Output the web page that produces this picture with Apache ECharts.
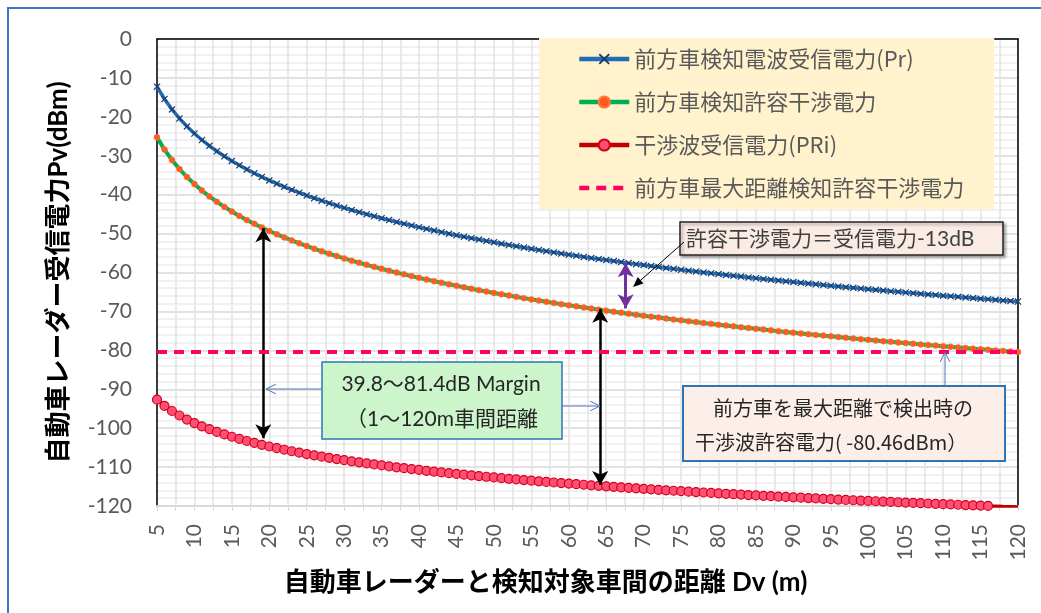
<!DOCTYPE html>
<html><head><meta charset="utf-8">
<script src="https://cdn.jsdelivr.net/npm/echarts@6/dist/echarts.min.js"></script>
<style>html,body{margin:0;padding:0;background:#fff}#c{width:1041px;height:613px}</style>
</head><body><div id="c"></div>
<script>
// ---- data ----
const distances = [5,6,7,8,9,10,11,12,13,14,15,16,17,18,19,20,21,22,23,24,25,26,27,28,29,30,31,32,33,34,35,36,37,38,39,40,41,42,43,44,45,46,47,48,49,50,51,52,53,54,55,56,57,58,59,60,61,62,63,64,65,66,67,68,69,70,71,72,73,74,75,76,77,78,79,80,81,82,83,84,85,86,87,88,89,90,91,92,93,94,95,96,97,98,99,100,101,102,103,104,105,106,107,108,109,110,111,112,113,114,115,116,117,118,119,120];
const receivedPr = [-12.25,-15.42,-18.10,-20.41,-22.46,-24.29,-25.95,-27.46,-28.85,-30.14,
-31.33,-32.46,-33.51,-34.50,-35.44,-36.33,-37.18,-37.99,-38.76,-39.50,
-40.21,-40.89,-41.55,-42.18,-42.79,-43.38,-43.95,-44.50,-45.03,-45.55,
-46.05,-46.54,-47.02,-47.48,-47.93,-48.37,-48.80,-49.22,-49.63,-50.03,
-50.42,-50.80,-51.18,-51.54,-51.90,-52.25,-52.59,-52.93,-53.26,-53.59,
-53.91,-54.22,-54.53,-54.83,-55.13,-55.42,-55.70,-55.99,-56.27,-56.54,
-56.81,-57.07,-57.33,-57.59,-57.85,-58.10,-58.34,-58.58,-58.82,-59.06,
-59.29,-59.52,-59.75,-59.98,-60.20,-60.41,-60.63,-60.84,-61.05,-61.26,
-61.47,-61.67,-61.87,-62.07,-62.27,-62.46,-62.65,-62.84,-63.03,-63.22,
-63.40,-63.58,-63.76,-63.94,-64.12,-64.29,-64.46,-64.64,-64.81,-64.97,
-65.14,-65.30,-65.47,-65.63,-65.79,-65.95,-66.10,-66.26,-66.41,-66.57,
-66.72,-66.87,-67.02,-67.17,-67.31,-67.46];
const allowedInterference = [-25.25,-28.42,-31.10,-33.41,-35.46,-37.29,-38.95,-40.46,-41.85,-43.14,
-44.33,-45.46,-46.51,-47.50,-48.44,-49.33,-50.18,-50.99,-51.76,-52.50,
-53.21,-53.89,-54.55,-55.18,-55.79,-56.38,-56.95,-57.50,-58.03,-58.55,
-59.05,-59.54,-60.02,-60.48,-60.93,-61.37,-61.80,-62.22,-62.63,-63.03,
-63.42,-63.80,-64.18,-64.54,-64.90,-65.25,-65.59,-65.93,-66.26,-66.59,
-66.91,-67.22,-67.53,-67.83,-68.13,-68.42,-68.70,-68.99,-69.27,-69.54,
-69.81,-70.07,-70.33,-70.59,-70.85,-71.10,-71.34,-71.58,-71.82,-72.06,
-72.29,-72.52,-72.75,-72.98,-73.20,-73.41,-73.63,-73.84,-74.05,-74.26,
-74.47,-74.67,-74.87,-75.07,-75.27,-75.46,-75.65,-75.84,-76.03,-76.22,
-76.40,-76.58,-76.76,-76.94,-77.12,-77.29,-77.46,-77.64,-77.81,-77.97,
-78.14,-78.30,-78.47,-78.63,-78.79,-78.95,-79.10,-79.26,-79.41,-79.57,
-79.72,-79.87,-80.02,-80.17,-80.31,-80.46];
const interferencePRi = [-92.67,-94.25,-95.59,-96.75,-97.78,-98.69,-99.52,-100.27,-100.97,-101.61,
-102.21,-102.77,-103.30,-103.80,-104.27,-104.71,-105.13,-105.54,-105.93,-106.29,
-106.65,-106.99,-107.32,-107.63,-107.94,-108.23,-108.52,-108.79,-109.06,-109.32,
-109.57,-109.82,-110.05,-110.29,-110.51,-110.73,-110.95,-111.16,-111.36,-111.56,
-111.75,-111.95,-112.13,-112.32,-112.49,-112.67,-112.84,-113.01,-113.18,-113.34,
-113.50,-113.65,-113.81,-113.96,-114.11,-114.25,-114.40,-114.54,-114.68,-114.81,
-114.95,-115.08,-115.21,-115.34,-115.47,-115.59,-115.72,-115.84,-115.96,-116.08,
-116.19,-116.31,-116.42,-116.53,-116.64,-116.75,-116.86,-116.97,-117.07,-117.18,
-117.28,-117.38,-117.48,-117.58,-117.68,-117.78,-117.87,-117.97,-118.06,-118.15,
-118.25,-118.34,-118.43,-118.52,-118.60,-118.69,-118.78,-118.86,-118.95,-119.03,
-119.11,-119.20,-119.28,-119.36,-119.44,-119.52,-119.60,-119.68,-119.75,-119.83,
-119.90,-119.98,-120.05,-120.13,-120.20,-120.27];
const maxDistAllowedLevel = [-80.46, -80.46];
const maxDistAllowedRange = [5, 120];
const seriesNames = ['前方車検知電波受信電力(Pr)','前方車検知許容干渉電力','干渉波受信電力(PRi)','前方車最大距離検知許容干渉電力'];
// measurement arrows [distance, from dB, to dB]
const marginArrows = [[19.2,-48.6,-102.6],[64.2,-69.3,-114.6]];
const diffArrow = [67.6,-57.6,-69.2];

const pair = arr => distances.map((d,i)=>[d,arr[i]]);
const LAT = 'Lato, "Noto Sans CJK JP", sans-serif';
const JP = '"Noto Sans CJK JP", sans-serif';
const XPATH = 'path://M0,1.2 L1.2,0 L5,3.8 L8.8,0 L10,1.2 L6.2,5 L10,8.8 L8.8,10 L5,6.2 L1.2,10 L0,8.8 L3.8,5 Z';

function openArrow(x1,y1,x2,y2,color,w,h){
  const a=Math.atan2(y2-y1,x2-x1), s=0.45;
  return [
    {type:'line',z:50,shape:{x1,y1,x2,y2},style:{stroke:color,lineWidth:w}},
    {type:'polyline',z:50,shape:{points:[[x2-h*Math.cos(a-s),y2-h*Math.sin(a-s)],[x2,y2],[x2-h*Math.cos(a+s),y2-h*Math.sin(a+s)]]},style:{stroke:color,lineWidth:w,fill:null}}
  ];
}
function filledArrow(x1,y1,x2,y2,color,w,h){
  const a=Math.atan2(y2-y1,x2-x1), s=0.4;
  return [
    {type:'line',z:50,shape:{x1,y1,x2:x2-h*0.7*Math.cos(a),y2:y2-h*0.7*Math.sin(a)},style:{stroke:color,lineWidth:w}},
    {type:'polygon',z:50,shape:{points:[[x2-h*Math.cos(a-s),y2-h*Math.sin(a-s)],[x2,y2],[x2-h*Math.cos(a+s),y2-h*Math.sin(a+s)]]},style:{fill:color}}
  ];
}

const graphics = [
  {type:'rect',z:0,silent:true,shape:{x:8,y:8,width:1100,height:700},style:{fill:null,stroke:'#4472C4',lineWidth:2}},
  // box 1
  {type:'rect',z:49,shape:{x:680,y:222,width:323,height:33},style:{fill:'#FBEBE5',stroke:'#262626',lineWidth:1.5,shadowBlur:3,shadowOffsetX:2,shadowOffsetY:2,shadowColor:'rgba(0,0,0,0.35)'}},
  {type:'text',z:51,style:{x:686,y:239,text:'許容干渉電力＝受信電力-13dB',font:'21px '+LAT,fill:'#404040',verticalAlign:'middle'}},
  ...filledArrow(684,242,633,287,'#000',1,11),
  // box 2 (green)
  {type:'rect',z:49,shape:{x:322,y:362,width:240,height:77},style:{fill:'#CCF5CC',stroke:'#2E75B6',lineWidth:1.5}},
  {type:'text',z:51,style:{x:441,y:384,text:'39.8～81.4dB Margin',font:'21px '+LAT,fill:'#262626',align:'center',verticalAlign:'middle'}},
  {type:'text',z:51,style:{x:346,y:419,text:'（1～120m車間距離',font:'21px '+LAT,fill:'#262626',verticalAlign:'middle'}},
  ...openArrow(322,389,266,389,'#4F74B4',1,11),
  ...openArrow(562,406,600,406,'#4F74B4',1,11),
  // box 3
  {type:'rect',z:49,shape:{x:683,y:386,width:322,height:75},style:{fill:'#FCEFEA',stroke:'#2E75B6',lineWidth:2}},
  {type:'text',z:51,style:{x:843,y:408,text:'前方車を最大距離で検出時の',font:'20px '+JP,fill:'#262626',align:'center',verticalAlign:'middle'}},
  {type:'text',z:51,style:{x:695,y:442,text:'干渉波許容電力( -80.46dBm）',font:'20px '+JP,fill:'#262626',verticalAlign:'middle'}},
  ...openArrow(945,386,945,352,'#4F74B4',1,11)
];

const mlData = marginArrows.map(a=>[{coord:[a[0],a[1]],lineStyle:{color:'#000',width:2.5,type:'solid'}},{coord:[a[0],a[2]]}]);
mlData.push([{coord:[diffArrow[0],diffArrow[1]],lineStyle:{color:'#7030A0',width:3,type:'solid'}},{coord:[diffArrow[0],diffArrow[2]]}]);

const chart = echarts.init(document.getElementById('c'));
chart.setOption({
  animation:false,
  backgroundColor:'#fff',
  grid:{left:157,top:39,right:23,bottom:107},
  legend:{
    orient:'vertical',left:539,top:38,
    backgroundColor:'#FFF2CC',
    padding:[8,30,8,38],
    itemWidth:50,itemHeight:14,itemGap:17,
    lineStyle:{width:4.5},
    textStyle:{fontFamily:JP,fontSize:22,color:'#595959',lineHeight:26},
    data:[seriesNames[0],seriesNames[1],seriesNames[2],{name:seriesNames[3],itemStyle:{opacity:0}}]
  },
  xAxis:[{
    type:'value',min:5,max:120,interval:5,
    name:'自動車レーダーと検知対象車間の距離 Dv (m)',nameLocation:'middle',nameGap:64,
    nameTextStyle:{fontFamily:LAT,fontSize:26,fontWeight:'bold',color:'#000',padding:[0,84,0,0]},
    axisLine:{show:true,onZero:false,lineStyle:{color:'#D9D9D9',width:2}},
    axisTick:{show:true,length:5,lineStyle:{color:'#D9D9D9'}},
    minorTick:{show:true,splitNumber:2,length:5,lineStyle:{color:'#D9D9D9'}},
    axisLabel:{rotate:90,margin:18,fontFamily:LAT,fontSize:21,color:'#595959'},
    splitLine:{show:true,lineStyle:{color:'#E3E3E3',width:1.5}},
    minorSplitLine:{show:true,lineStyle:{color:'#E3E3E3',width:1.5}}
  },{
    type:'value',min:5,max:120,position:'top',
    axisLine:{show:true,onZero:false,lineStyle:{color:'#000',width:1.5}},
    axisTick:{show:false},axisLabel:{show:false},splitLine:{show:false}
  }],
  yAxis:[{
    type:'value',min:-120,max:0,interval:10,
    name:'自動車レーダー受信電力Pv(dBm)',nameLocation:'middle',nameGap:85,nameRotate:90,
    nameTextStyle:{fontFamily:LAT,fontSize:26,fontWeight:'bold',color:'#000'},
    axisLine:{show:true,onZero:false,lineStyle:{color:'#000',width:1.5}},
    axisTick:{show:false},
    axisLabel:{margin:25,fontFamily:LAT,fontSize:21,color:'#595959'},
    splitLine:{show:true,lineStyle:{color:'#D9D9D9',width:1.5}},
    minorTick:{show:false,splitNumber:5},
    minorSplitLine:{show:true,lineStyle:{color:'#EDEDED',width:1.5}}
  },{
    type:'value',min:-120,max:0,position:'right',
    axisLine:{show:true,onZero:false,lineStyle:{color:'#000',width:1.5}},
    axisTick:{show:false},axisLabel:{show:false},splitLine:{show:false}
  }],
  series:[
    {name:seriesNames[0],type:'line',data:pair(receivedPr),z:3,
     symbol:XPATH,symbolSize:7,showAllSymbol:true,
     lineStyle:{color:'#1F6EB5',width:3.5},itemStyle:{color:'#1F3A68'}},
    {name:seriesNames[1],type:'line',data:pair(allowedInterference),z:4,
     symbol:'circle',symbolSize:6,showAllSymbol:true,
     lineStyle:{color:'#00B050',width:4},itemStyle:{color:'#FF5A1F',borderColor:'#FF7A3A',borderWidth:0.5}},
    {name:seriesNames[2],type:'line',data:pair(interferencePRi),z:3,clip:true,
     symbol:'circle',symbolSize:9,showAllSymbol:true,
     lineStyle:{color:'#C00000',width:3.5},itemStyle:{color:'#FF4F73',borderColor:'#D0001E',borderWidth:1.2}},
    {name:seriesNames[3],type:'line',z:5,
     data:maxDistAllowedRange.map((d,i)=>[d,maxDistAllowedLevel[i]]),
     symbol:'none',lineStyle:{color:'#FF0066',width:4,type:[10,7]},itemStyle:{color:'#FF0066'},
     markLine:{silent:true,symbol:['arrow','arrow'],symbolSize:[12,14],label:{show:false},
       emphasis:{disabled:true},data:mlData}}
  ],
  graphic:graphics
});
</script></body></html>
